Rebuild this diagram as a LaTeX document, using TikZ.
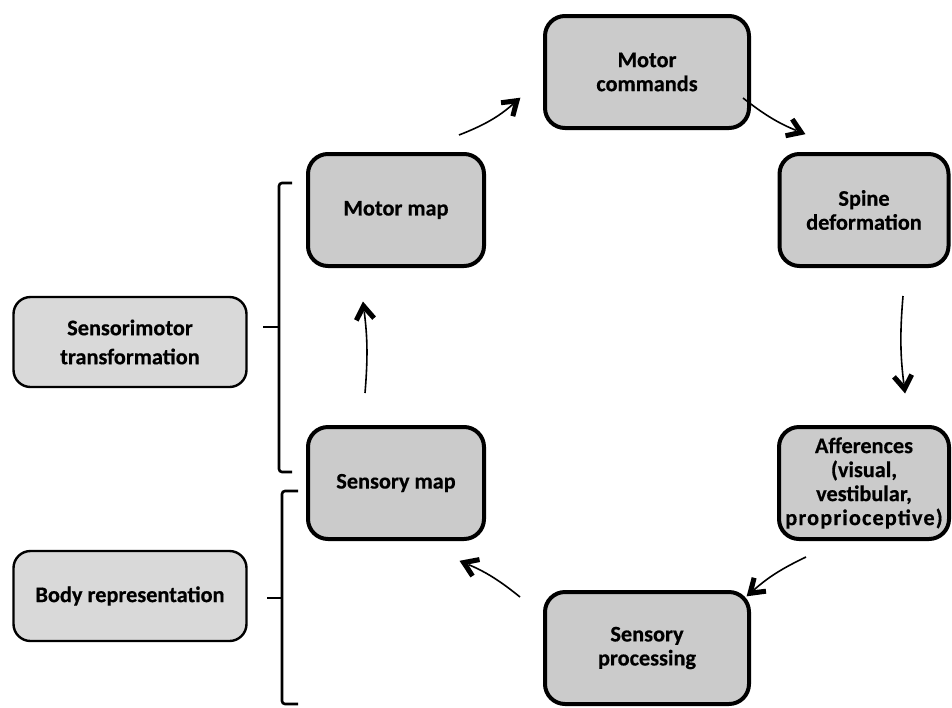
\documentclass[tikz,border=0pt]{standalone}
\usepackage{fontspec}
\setmainfont{Carlito}[BoldFeatures={FakeBold=0.5}]
\usetikzlibrary{arrows.meta}
\definecolor{mainfill}{HTML}{CBCBCB}
\definecolor{sidefill}{HTML}{D9D9D9}
\pgfdeclarearrow{
  name = VHead,
  setup code = {
    \pgfarrowssettipend{0pt}
    \pgfarrowssetlineend{-9.5pt}
    \pgfarrowssetbackend{-18.8pt}
    \pgfarrowssetvisualbackend{-9.5pt}
    \pgfarrowshullpoint{0pt}{0pt}
    \pgfarrowshullpoint{-16pt}{11pt}
    \pgfarrowshullpoint{-18.8pt}{6.9pt}
    \pgfarrowshullpoint{-18.8pt}{-6.9pt}
    \pgfarrowshullpoint{-16pt}{-11pt}
  },
  drawing code = {
    \pgfpathmoveto{\pgfpoint{0.5pt}{0pt}}
    \pgfpathlineto{\pgfpoint{-16pt}{11pt}}
    \pgfpathlineto{\pgfpoint{-18.8pt}{6.9pt}}
    \pgfpathlineto{\pgfpoint{-8.8pt}{0pt}}
    \pgfpathlineto{\pgfpoint{-18.8pt}{-6.9pt}}
    \pgfpathlineto{\pgfpoint{-16pt}{-11pt}}
    \pgfpathclose
    \pgfusepathqfill
  }
}
\begin{document}
\begin{tikzpicture}[x=1pt,y=-1pt,
  mainbox/.style={draw=black, line width=4pt, fill=mainfill, rounded corners=20pt,
    align=center, inner sep=2pt, font=\fontsize{22.3}{24}\selectfont\bfseries},
  sidebox/.style={draw=black, line width=2.4pt, fill=sidefill, rounded corners=17pt,
    align=center, inner sep=2pt, minimum width=233pt, minimum height=90pt,
    font=\fontsize{22.3}{29}\selectfont\bfseries},
  arr/.style={line width=1.6pt, -VHead},
  brk/.style={line width=2.6pt, rounded corners=3pt}]
\useasboundingbox (0,0) rectangle (952,707);
\node[mainbox, minimum width=204pt, minimum height=112pt] (mc) at (647,72) {Motor\\commands};
\node[mainbox, minimum width=169pt, minimum height=112pt] (sd) at (864,210) {Spine\\deformation};
\node[mainbox, minimum width=170pt, minimum height=112pt] (af) at (864,483) {Afferences\\(visual,\\vestibular,\\\addfontfeatures{LetterSpace=5}proprioceptive)};
\node[mainbox, minimum width=204pt, minimum height=112pt] (sp) at (647,648) {Sensory\\processing};
\node[mainbox, minimum width=176pt, minimum height=112pt] (sm) at (396,483) {Sensory map};
\node[mainbox, minimum width=176pt, minimum height=112pt] (mm) at (396,210) {Motor map};
\node[sidebox] (st) at (130,342) {Sensorimotor\\transformation};
\node[sidebox] (br) at (130,596) {Body representation};
% arrow end points
\coordinate (a1s) at (459,135); \coordinate (a1e) at (520,98);
\coordinate (a2s) at (743,98);  \coordinate (a2e) at (805,134);
\coordinate (a3s) at (903,296); \coordinate (a3e) at (905,393);
\coordinate (a4s) at (806,557); \coordinate (a4e) at (747,596);
\coordinate (a5s) at (520,597); \coordinate (a5e) at (460,561);
\coordinate (a6s) at (365,393); \coordinate (a6e) at (363,302);
\draw[arr] (a1s) to[bend right=10] (a1e);
\draw[arr] (a2s) to[bend right=8] (a2e);
\draw[arr] (a3s) to[bend right=6] (a3e);
\draw[arr] (a4s) to[bend right=8] (a4e);
\draw[arr] (a5s) to[bend right=8] (a5e);
\draw[arr] (a6s) to[bend right=6] (a6e);
% brackets
\coordinate (b1t) at (279,327); \coordinate (b2t) at (282,598);
\draw[brk] (292,183) -- (279,183) -- (279,472) -- (292,472);
\draw[brk] (b1t) -- (263,327);
\draw[brk] (298,491) -- (282,491) -- (282,704) -- (298,704);
\draw[brk] (b2t) -- (267,598);
\end{tikzpicture}
\end{document}
